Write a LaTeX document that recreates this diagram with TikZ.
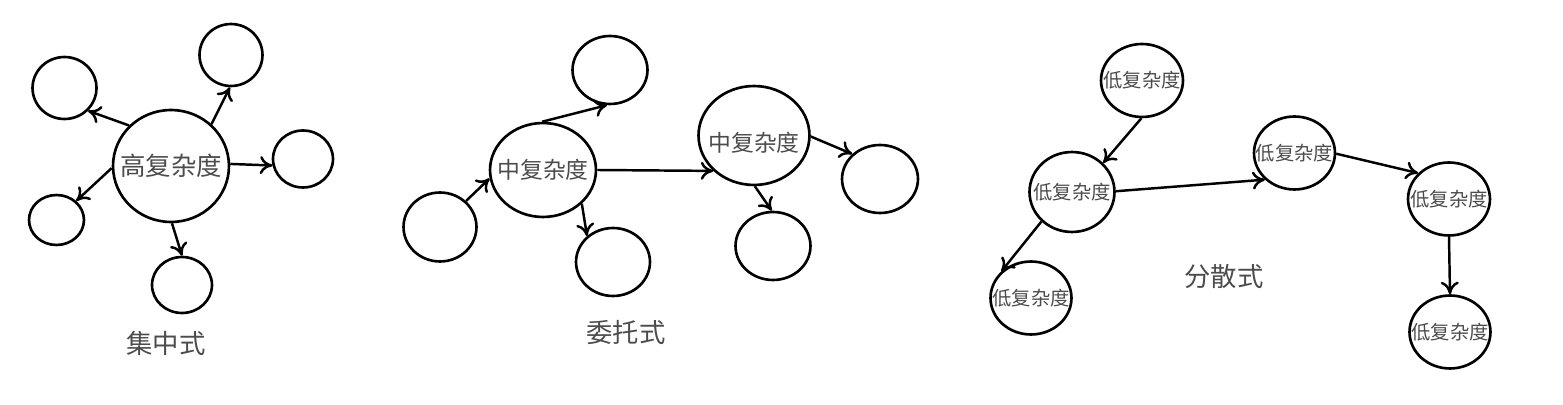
\documentclass[tikz,border=0pt]{standalone}
\usepackage{fontspec}
\setmainfont{Noto Sans CJK SC}
\usetikzlibrary{shapes.geometric, arrows.meta}
\tikzset{>={To[length=2.5mm,width=3.6mm]},
every edge/.style={draw, ->},
every node/.style={text=black!70},
nd/.style 2 args={ellipse, draw, line width=1.5pt, minimum width=#1*0.04cm, minimum height=#2*0.04cm, inner sep=0pt},
}
\newcommand{\fhi}{\fontsize{14.5pt}{17pt}\selectfont}
\newcommand{\fmid}{\fontsize{13pt}{15pt}\selectfont}
\newcommand{\flow}{\fontsize{11pt}{13pt}\selectfont}
\newcommand{\fcap}{\fontsize{15pt}{18pt}\selectfont}

\begin{document}
\begin{tikzpicture}[x=0.02cm, y=-0.02cm, line width=1.4pt]
\useasboundingbox (0,0) rectangle (1563,405);
    % 集中式
    \node[nd={58}{56}, label={center:{\fhi 高复杂度}}] (hub) at (171,166) {};
    \node[nd={32}{31}] (tl) at (64.5,88) {};
    \node[nd={31.5}{31}] (tr) at (231,55) {};
    \node[nd={30}{28.5}] (rt) at (303,159) {};
    \node[nd={27.5}{25}] (bl) at (56.5,220) {};
    \node[nd={30}{28}] (bt) at (182,285) {};
    \node (cap1) at (166,343) {\fcap 集中式};

    \path
    (hub.136) edge (tl.-44)
    (hub.46) edge (tr.-92)
    (hub.2) edge (rt.192)
    (hub.182) edge (bl.44)
    (hub.-89) edge (bt.90)
    ;

    % 委托式
    \node[nd={53}{47}, label={center:{\fmid 中复杂度}}] (m1) at (543,170) {};
    \node[nd={55.5}{49.5}, label={[yshift=-0.14cm]center:{\fmid 中复杂度}}] (m2) at (754,135.5) {};
    \node[nd={36.5}{34.5}] (la) at (440,227) {};
    \node[nd={37.5}{34}] (ta) at (610,70) {};
    \node[nd={37}{34}] (ba) at (613,262) {};
    \node[nd={38}{34}] (rb) at (880,179) {};
    \node[nd={37.5}{34}] (bb) at (773,246) {};
    \node (cap2) at (626,333) {\fcap 委托式};

    \path
    (la.45) edge (m1.189)
    (m1.91) edge (ta.-95)
    (m1.0) edge (m2.221)
    (m1.-41) edge (ba.135)
    (m2.-1.5) edge (rb.138)
    (m2.-89) edge (bb.92)
    ;

    % 分散式
    \node[nd={41}{36.5}, label={center:{\flow 低复杂度}}] (d1) at (1142,80.5) {};
    \node[nd={42.5}{40}, label={center:{\flow 低复杂度}}] (d2) at (1072,192) {};
    \node[nd={40.5}{36.5}, label={center:{\flow 低复杂度}}] (d3) at (1031,298) {};
    \node[nd={40.5}{36.5}, label={center:{\flow 低复杂度}}] (d4) at (1294.5,153) {};
    \node[nd={41}{36.5}, label={center:{\flow 低复杂度}}] (d5) at (1449,199) {};
    \node[nd={40.5}{36.5}, label={center:{\flow 低复杂度}}] (d6) at (1450,332) {};
    \node (cap3) at (1224,277) {\fcap 分散式};

    \path
    (d1.-91) edge (d2.43)
    (d2.1) edge (d4.222)
    (d2.224) edge (d3.138)
    (d4.-1) edge (d5.140)
    (d5.-90) edge (d6.90)
    ;
\end{tikzpicture}
\end{document}
